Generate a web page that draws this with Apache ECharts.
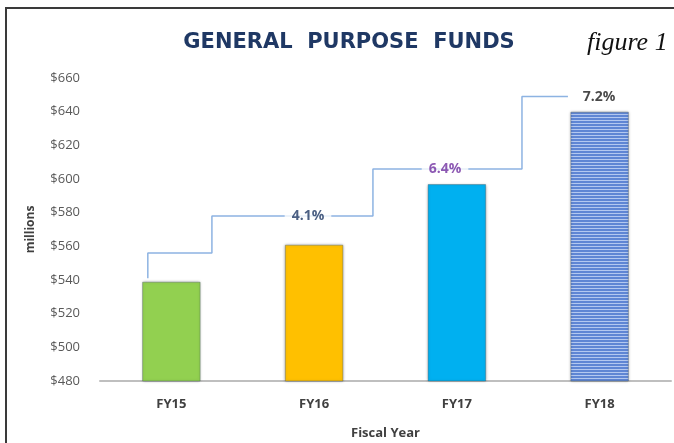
<!DOCTYPE html>
<html>
<head>
<meta charset="utf-8">
<script src="https://cdn.jsdelivr.net/npm/echarts@6/dist/echarts.min.js"></script>
<style>
  html, body { margin: 0; padding: 0; background: #fff; overflow: hidden; }
  #wrap { position: relative; width: 674px; height: 443px; overflow: hidden; }
  #chart { width: 674px; height: 443px; }
  #frame { position: absolute; left: 5px; top: 7px; width: 680px; height: 450px;
           border-left: 2px solid #3a3a3a; border-top: 2px solid #3a3a3a; pointer-events: none; }
</style>
</head>
<body>
<div id="wrap">
  <div id="chart"></div>
  <div id="frame"></div>
</div>
<script>
// General purpose funds by fiscal year (millions)
const years = ['FY15', 'FY16', 'FY17', 'FY18'];
const funds = [539, 561, 597, 640];
const barColors = ['#92d050', '#ffc000', '#00b0f0', 'stripe'];
const growth = ['4.1%', '6.4%', '7.2%'];
const growthColors = ['#1f3864', '#7030a0', '#1a1a1a'];
// step connector: x in category units (0 = FY15 centre), y in millions
const stepX = [-0.165, -0.165, 0.284, 0.284, 1.412, 1.412, 2.456, 2.456, 2.778];
const stepY = [541, 556, 556, 578, 578, 606, 606, 649, 649];
const labelX = [0.957, 1.917, 2.996];
const labelY = [578, 606, 649];

function stripes() {
  const c = document.createElement('canvas');
  c.width = 4; c.height = 3;
  const ctx = c.getContext('2d');
  ctx.fillStyle = '#5f86d4';
  ctx.fillRect(0, 0, 4, 3);
  ctx.fillStyle = '#b3c8f0';
  ctx.fillRect(0, 0, 4, 1);
  return { image: c, repeat: 'repeat' };
}

function renderChart() {
  const chart = echarts.init(document.getElementById('chart'));
  const font = "'Open Sans', sans-serif";
  const option = {
    animation: false,
    title: [
      {
        text: 'GENERAL  PURPOSE  FUNDS',
        left: 344, top: 27, textAlign: 'center',
        textStyle: { fontFamily: "'DejaVu Sans', sans-serif", fontWeight: 'bold', fontSize: 21, color: '#1f3864' }
      },
      {
        text: 'figure 1',
        left: 582, top: 25,
        textStyle: { fontFamily: "'Liberation Serif', serif", fontStyle: 'italic', fontWeight: 'normal', fontSize: 26, color: '#111' }
      }
    ],
    grid: { left: 100, right: 3, top: 78, bottom: 62, outerBoundsMode: 'none' },
    xAxis: [
      {
        type: 'category',
        data: years,
        axisTick: { show: false },
        axisLine: { lineStyle: { color: '#bfbfbf', width: 2 } },
        axisLabel: { margin: 17, fontFamily: font, fontWeight: 'bold', fontSize: 13, color: '#404040' },
        name: 'Fiscal Year',
        nameLocation: 'middle',
        nameGap: 46,
        nameTextStyle: { fontFamily: font, fontWeight: 'bold', fontSize: 13, color: '#404040' }
      },
      { type: 'value', min: -0.5, max: 3.5, show: false }
    ],
    yAxis: {
      type: 'value',
      min: 480, max: 660, interval: 20,
      splitLine: { show: false },
      axisLine: { show: false },
      axisTick: { show: false },
      axisLabel: { margin: 20, fontFamily: font, fontSize: 13, color: '#595959', formatter: v => '$' + v },
      name: 'millions',
      nameLocation: 'middle',
      nameGap: 63,
      nameTextStyle: { fontFamily: font, fontWeight: 'bold', fontSize: 12, color: '#404040' }
    },
    series: [
      {
        type: 'bar',
        barWidth: '41%',
        data: funds.map((v, i) => ({
          value: v,
          itemStyle: {
            color: barColors[i] === 'stripe' ? stripes() : barColors[i],
            borderColor: 'rgba(60,80,90,0.35)',
            borderWidth: 1,
            shadowBlur: 3,
            shadowColor: 'rgba(0,0,0,0.3)'
          }
        }))
      },
      {
        type: 'line',
        xAxisIndex: 1,
        symbol: 'none',
        lineStyle: { color: '#8db3e2', width: 1.5 },
        data: stepX.map((x, i) => [x, stepY[i]]),
        z: 3
      },
      {
        type: 'scatter',
        xAxisIndex: 1,
        symbolSize: 0,
        z: 4,
        data: labelX.map((x, i) => ({
          value: [x, labelY[i]],
          label: {
            show: true, position: 'inside', formatter: growth[i],
            color: growthColors[i], fontFamily: font, fontWeight: 'bold', fontSize: 14,
            backgroundColor: '#fff', padding: [2, 7]
          }
        }))
      }
    ]
  };
  chart.setOption(option, true);
}
renderChart();
</script>
</body>
</html>
